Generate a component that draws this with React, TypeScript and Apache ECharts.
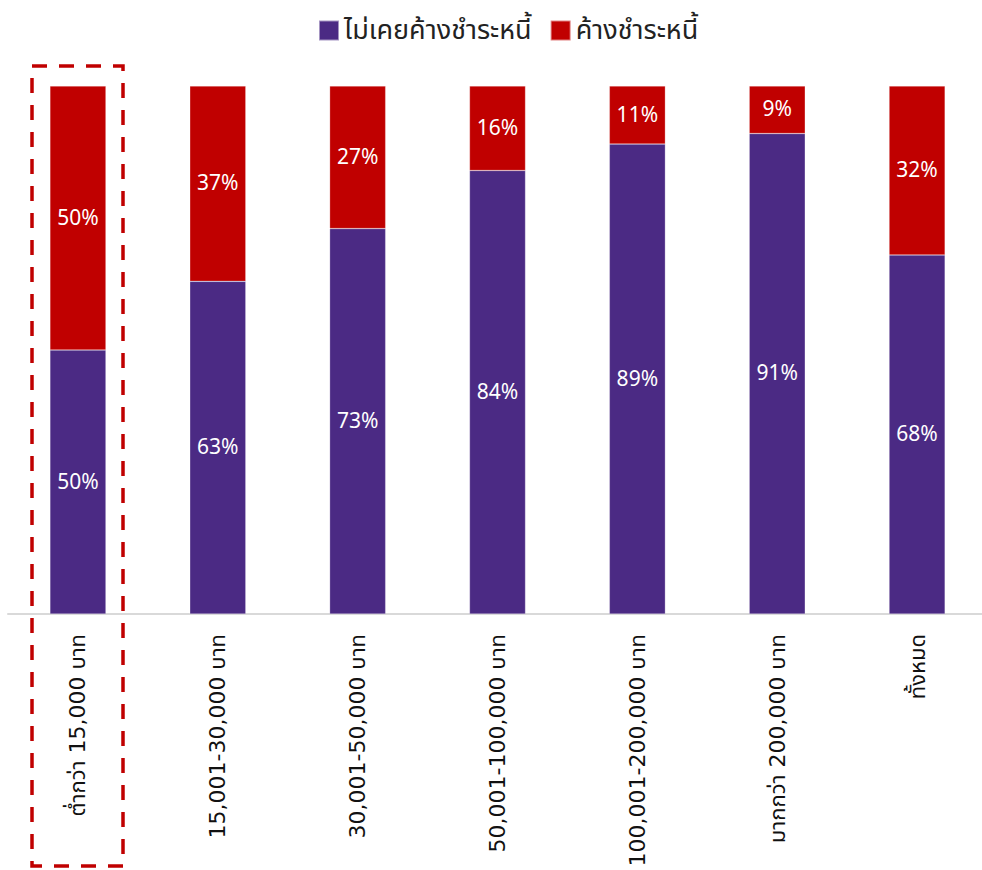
import React, { useEffect, useRef } from "react";
import * as echarts from "echarts";

const categories = [
  "ต่ำกว่า 15,000 บาท",
  "15,001-30,000 บาท",
  "30,001-50,000 บาท",
  "50,001-100,000 บาท",
  "100,001-200,000 บาท",
  "มากกว่า 200,000 บาท",
  "ทั้งหมด",
];
const neverOverdue = [50, 63, 73, 84, 89, 91, 68];
const overdue = [50, 37, 27, 16, 11, 9, 32];
const seriesNames = ["ไม่เคยค้างชำระหนี้", "ค้างชำระหนี้"];

const FONT = "'Noto Sans Thai', 'Noto Sans', 'DejaVu Sans', sans-serif";
const AXIS_FONT = "'DejaVu Sans', 'Noto Sans Thai', sans-serif";

export default function App() {
  const ref = useRef<HTMLDivElement>(null);
  useEffect(() => {
    if (!ref.current) return;
    const chart = echarts.init(ref.current, undefined, { renderer: "svg" });
    const labelStyle = {
      show: true,
      position: "inside" as const,
      color: "#ffffff",
      fontSize: 21,
      fontFamily: FONT,
      formatter: (p: any) => `${p.value}%`,
    };
    chart.setOption({
      animation: false,
      legend: {
        top: 12,
        left: 313,
        itemWidth: 20,
        itemHeight: 20,
        itemGap: 18,
        icon: "rect",
        textStyle: { fontSize: 27, color: "#222", fontFamily: FONT },
        data: seriesNames,
      },
      grid: { left: 8, top: 86, width: 979, height: 528, containLabel: false },
      xAxis: {
        type: "category",
        data: categories,
        axisTick: { show: false },
        axisLine: { lineStyle: { color: "#D9D9D9", width: 2 } },
        axisLabel: {
          rotate: 90,
          interval: 0,
          margin: 20,
          fontSize: 22,
          color: "#111",
          fontFamily: AXIS_FONT,
        },
      },
      yAxis: {
        type: "value",
        min: 0,
        max: 100,
        show: false,
        splitLine: { show: false },
      },
      series: [
        {
          name: seriesNames[0],
          type: "bar",
          stack: "total",
          barWidth: 56,
          data: neverOverdue,
          itemStyle: { color: "#4B2A84", borderColor: "rgba(255,255,255,0.5)", borderWidth: 0.5 },
          label: labelStyle,
        },
        {
          name: seriesNames[1],
          type: "bar",
          stack: "total",
          barWidth: 56,
          data: overdue,
          itemStyle: { color: "#C00000", borderColor: "rgba(255,255,255,0.5)", borderWidth: 0.5 },
          label: labelStyle,
        },
      ],
      graphic: [
        {
          type: "rect",
          shape: { x: 32, y: 66, width: 91, height: 800 },
          style: {
            fill: "none",
            stroke: "#C00000",
            lineWidth: 3.5,
            lineDash: [15, 12],
          },
          z: 100,
        },
      ],
    });
    return () => chart.dispose();
  }, []);
  return (
    <div
      style={{
        position: "absolute",
        left: 0,
        top: 0,
        width: 982,
        height: 870,
        overflow: "hidden",
        background: "#fff",
      }}
    >
      <div ref={ref} style={{ width: 1000, height: 870 }} />
    </div>
  );
}
